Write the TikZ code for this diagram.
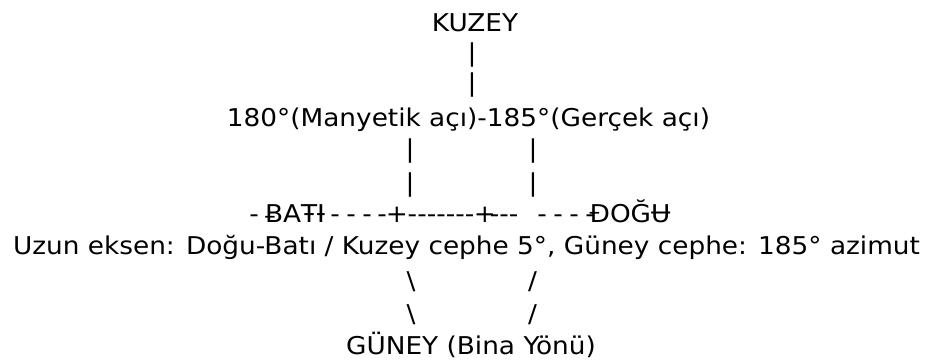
\documentclass[tikz,border=0pt]{standalone}
\usepackage{fontspec}
\newfontfamily\dvs[FakeStretch=1.075]{DejaVu Sans}
\begin{document}
\begin{tikzpicture}[x=1pt,y=-1pt,
  txt/.style={inner sep=0pt, outer sep=0pt, anchor=base, font=\dvs\fontsize{24.5}{29}\selectfont, text=black}]
\useasboundingbox[fill=white] (0,0) rectangle (939,361);
\node[txt] (kuzey) at (475,32) {KUZEY};
\node[txt] (k1) at (472,61) {|};
\node[txt] (k2) at (472,92) {|};
\node[txt] (aci) at (468.5,126) {180°(Manyetik açı)-185°(Gerçek açı)};
\node[txt] (m1) at (410,157) {|};
\node[txt] (m2) at (410,191) {|};
\node[txt] (g1) at (533,157) {|};
\node[txt] (g2) at (533,191) {|};
% west-east line
\node[txt] (d0) at (254,222) {-};
\node[txt] (bati) at (295,222) {ɃAŦƗ};
\foreach \x [count=\i] in {335,351,367,382} \node[txt] (bd\i) at (\x,222) {-};
\node[txt] (p1) at (397,222) {+};
\node[txt] (mid) at (441,222) {-------};
\node[txt] (p2) at (485,222) {+};
\node[txt] (r1) at (504,222) {---};
\foreach \x [count=\i] in {542,558,574,590} \node[txt] (dd\i) at (\x,222) {-};
\node[txt] (dogu) at (630,222) {ĐOĞɄ};
\node[txt] (uzun) at (466.5,254) {Uzun eksen: Doğu-Batı / Kuzey cephe 5°, Güney cephe: 185° azimut};
\node[txt] (s1) at (411,289) {\textbackslash};
\node[txt] (s2) at (411,322) {\textbackslash};
\node[txt] (e1) at (532.5,289) {/};
\node[txt] (e2) at (532.5,322) {/};
\node[txt] (guney) at (471,354) {GÜNEY (Bina Yönü)};
\end{tikzpicture}
\end{document}
